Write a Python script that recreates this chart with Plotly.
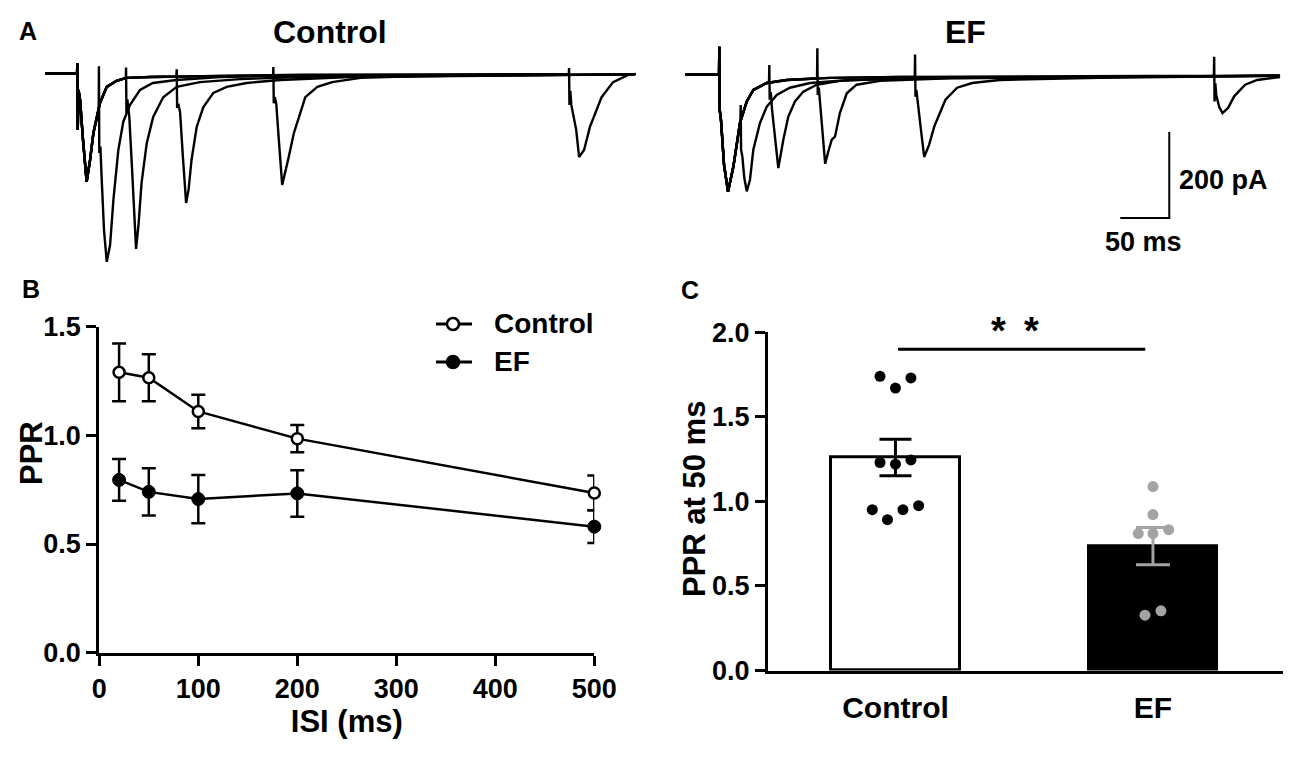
import plotly.graph_objects as go

W, H = 1300, 757
OFF = 8  # the page body adds an 8 px margin around the plot

# ---- panel A: example sweeps (time in ms from 1st stimulus, current in pA) ----
isi_list = [20, 50, 100, 200, 500]

ctrl_first_t = [-33, -0.3, 0, 0.4, 1.2, 2.8, 5.8, 9.5, 13, 16.4, 23, 30, 40, 50, 74, 125, 228, 569]
ctrl_first_i = [0, 0, 24, -131, -38, -62, -155, -252, -201, -138, -69, -31, -17, -10, -8, -6, -3, -1]

ctrl_second_t = [
    [21.8, 22.0, 22.4, 23.5, 24.9, 27.2, 30, 33.4, 36.8, 41.8, 46.9, 53.8, 64, 77, 101, 146, 227, 569],
    [49.5, 49.7, 50.1, 51, 53, 56, 59.9, 62.5, 65.5, 70.8, 77.4, 87.6, 101.4, 125, 166, 227, 569],
    [101.0, 101.4, 101.8, 103, 104.8, 107.9, 111, 113.5, 116.5, 121.8, 128.6, 138.8, 152.4, 172.7, 207, 278, 569],
    [199.8, 200, 200.4, 201.5, 203, 205.6, 209, 215, 221, 232.6, 244.9, 260, 289, 350, 569],
    [501.5, 501.7, 502.1, 503, 504, 509, 511.9, 517, 523, 534.9, 546.6, 562, 570],
]
ctrl_second_i = [
    [-85, 17, -185, -170, -248, -364, -438, -399, -294, -178, -112, -73, -38, -22, -15, -8, -5, -2],
    [-10, 14, -92, -60, -100, -230, -408, -350, -255, -162, -101, -55, -31, -20, -13, -8, -2],
    [-7, 10, -80, -70, -90, -201, -301, -270, -201, -124, -78, -45, -31, -22, -15, -8, -2],
    [-4, 15, -69, -55, -71, -155, -259, -201, -138, -55, -31, -20, -10, -6, -2],
    [-1, 13, -73, -40, -73, -131, -194, -178, -124, -55, -20, -3, -1],
]

ef_first_t = [-35, -0.3, 0, 0.4, 1.7, 4.8, 8.9, 14.3, 21.1, 28, 34.7, 48.4, 68.8, 113, 184, 572]
ef_first_i = [0, 0, 65, -81, -105, -209, -272, -214, -112, -62, -35, -19, -12, -7, -5, -2]

ef_second_t = [
    [21.5, 21.8, 22.2, 23.5, 25.5, 28, 31.3, 34.7, 41.5, 48.4, 58.6, 72, 92.5, 133, 235, 572],
    [50.7, 51, 51.4, 52.5, 53.8, 56.8, 60.2, 65.3, 70.4, 77.2, 85.7, 99.4, 123, 184, 572],
    [99.7, 100, 100.4, 101.5, 103, 105.3, 108, 111, 114.7, 118, 123, 130, 140, 164, 235, 572],
    [199.4, 199.7, 200.1, 201, 203, 205.7, 209, 214, 219.3, 230.7, 242.6, 257.9, 286, 388, 572],
    [504.5, 504.8, 505.2, 506, 506.9, 510, 513.3, 519, 525.2, 536.4, 548.7, 572],
]
ef_second_i = [
    [-108, -70, -174, -190, -240, -271, -244, -174, -112, -74, -47, -30, -19, -12, -7, -2],
    [-19, 23, -58, -40, -81, -151, -217, -151, -97, -62, -39, -23, -14, -8, -2],
    [-8, 62, -47, -30, -70, -140, -207, -180, -151, -144, -89, -43, -23, -14, -8, -2],
    [-5, 47, -51, -35, -70, -128, -191, -163, -120, -58, -30, -19, -12, -7, -2],
    [-2, 42, -62, -20, -47, -75, -89, -77, -50, -23, -12, -5],
]

scale_ms = 50
scale_pa = 200

# ---- panel B: PPR vs ISI ----
isi_ms = [20, 50, 100, 200, 500]
ctrl_ppr = [1.29, 1.265, 1.11, 0.985, 0.735]
ctrl_sem = [0.133, 0.108, 0.077, 0.063, 0.08]
ef_ppr = [0.795, 0.74, 0.707, 0.733, 0.58]
ef_sem = [0.096, 0.109, 0.111, 0.107, 0.075]

# ---- panel C: PPR at 50 ms ----
groups = ["Control", "EF"]
ppr50_mean = [1.26, 0.735]
ppr50_sem = [0.108, 0.11]
ctrl_cells = [1.74, 1.73, 1.67, 1.23, 1.22, 1.245, 0.951, 0.892, 0.951, 0.975]
ef_cells = [1.088, 0.922, 0.81, 0.81, 0.833, 0.327, 0.353]
ctrl_jitter = [-0.06, 0.06, 0, -0.06, 0, 0.06, -0.09, -0.031, 0.029, 0.09]
ef_jitter = [0, 0, -0.057, 0, 0.061, -0.031, 0.031]
sig_y = 1.90


def px(x):
    return (x - OFF) / W


def py(y):
    return 1 - (y - OFF) / H


def sweep(first_t, first_i, sec_t, sec_i):
    keep = [k for k, t in enumerate(first_t) if t < sec_t[0]]
    return [first_t[k] for k in keep] + sec_t, [first_i[k] for k in keep] + sec_i


fig = go.Figure()

# panel A traces
for k in range(len(isi_list)):
    t, i = sweep(ctrl_first_t, ctrl_first_i, ctrl_second_t[k], ctrl_second_i[k])
    fig.add_trace(go.Scatter(x=t, y=i, mode="lines", line=dict(color="black", width=2.4),
                             xaxis="x", yaxis="y", showlegend=False, hoverinfo="skip"))
for k in range(len(isi_list)):
    t, i = sweep(ef_first_t, ef_first_i, ef_second_t[k], ef_second_i[k])
    fig.add_trace(go.Scatter(x=t, y=i, mode="lines", line=dict(color="black", width=2.4),
                             xaxis="x2", yaxis="y2", showlegend=False, hoverinfo="skip"))

# scale bar (corner placed in the EF panel)
bar_t, bar_i = 459, -333
fig.add_trace(go.Scatter(x=[bar_t - scale_ms, bar_t, bar_t], y=[bar_i, bar_i, bar_i + scale_pa],
                         mode="lines", line=dict(color="black", width=2),
                         xaxis="x2", yaxis="y2", showlegend=False, hoverinfo="skip"))

# panel B
fig.add_trace(go.Scatter(x=isi_ms, y=ef_ppr, mode="lines+markers", name="EF",
                         error_y=dict(type="data", array=ef_sem, color="black", thickness=2.5, width=7),
                         line=dict(color="black", width=2.5),
                         marker=dict(color="black", size=13, line=dict(color="black", width=1)),
                         cliponaxis=False, xaxis="x3", yaxis="y3", showlegend=False))
fig.add_trace(go.Scatter(x=isi_ms, y=ctrl_ppr, mode="lines+markers", name="Control",
                         error_y=dict(type="data", array=ctrl_sem, color="black", thickness=2.5, width=7),
                         line=dict(color="black", width=2.5),
                         marker=dict(color="white", size=11, line=dict(color="black", width=2.5)),
                         cliponaxis=False, xaxis="x3", yaxis="y3", showlegend=False))

# panel C
fig.add_trace(go.Bar(x=[0], y=[ppr50_mean[0]], width=0.5,
                     marker=dict(color="white", line=dict(color="black", width=3)),
                     error_y=dict(type="data", array=[ppr50_sem[0]], color="black", thickness=3, width=16),
                     xaxis="x4", yaxis="y4", showlegend=False))
fig.add_trace(go.Bar(x=[1], y=[ppr50_mean[1]], width=0.5,
                     marker=dict(color="black", line=dict(color="black", width=3)),
                     error_y=dict(type="data", array=[ppr50_sem[1]], color="#a3a3a3", thickness=3, width=17),
                     xaxis="x4", yaxis="y4", showlegend=False))
fig.add_trace(go.Scatter(x=[0 + d for d in ctrl_jitter], y=ctrl_cells, mode="markers",
                         marker=dict(color="black", size=11),
                         xaxis="x4", yaxis="y4", showlegend=False))
fig.add_trace(go.Scatter(x=[1 + d for d in ef_jitter], y=ef_cells, mode="markers",
                         marker=dict(color="#a3a3a3", size=11),
                         xaxis="x4", yaxis="y4", showlegend=False))
fig.add_trace(go.Scatter(x=[0.01, 0.97], y=[sig_y, sig_y], mode="lines",
                         line=dict(color="black", width=3), cliponaxis=False,
                         xaxis="x4", yaxis="y4", showlegend=False))

hidden = dict(visible=False, automargin=False)
axis_style = dict(showline=True, linewidth=3, linecolor="black", showgrid=False, zeroline=False,
                  ticks="outside", ticklen=10, tickwidth=3, tickcolor="black",
                  tickfont=dict(size=27), automargin=False)

fig.update_layout(
    width=W, height=H,
    margin=dict(l=0, r=0, t=0, b=0),
    paper_bgcolor="white", plot_bgcolor="rgba(0,0,0,0)",
    font=dict(family="Liberation Sans, Arial, sans-serif", color="black", weight="bold"),
    bargap=0,
    xaxis=dict(domain=[px(45), px(636)], range=[-33, 570], anchor="y", **hidden),
    yaxis=dict(domain=[py(270), py(40)], range=[-457, 78], anchor="x", **hidden),
    xaxis2=dict(domain=[px(685), px(1282)], range=[-35, 574], anchor="y2", **hidden),
    yaxis2=dict(domain=[py(270), py(40)], range=[-454, 81], anchor="x2", **hidden),
    xaxis3=dict(domain=[px(99.3), px(594.3)], range=[0, 500], anchor="y3",
                tickvals=[0, 100, 200, 300, 400, 500],
                title=dict(text="ISI (ms)", font=dict(size=31), standoff=8), **axis_style),
    yaxis3=dict(domain=[py(652.7), py(326.7)], range=[0, 1.5], anchor="x3",
                tickvals=[0, 0.5, 1.0, 1.5], tickformat=".1f", **axis_style),
    xaxis4=dict(domain=[px(768), px(1283)], range=[-0.495, 1.505], anchor="y4",
                showline=True, linewidth=3, linecolor="black", showgrid=False, zeroline=False,
                tickvals=[0, 1], ticktext=groups, ticks="outside", ticklen=8,
                tickcolor="rgba(0,0,0,0)", tickfont=dict(size=30), automargin=False),
    yaxis4=dict(domain=[py(670.5), py(332.3)], range=[0, 2.0], anchor="x4",
                tickvals=[0, 0.5, 1.0, 1.5, 2.0], tickformat=".1f", **axis_style),
)

annots = [
    dict(text="A", x=px(28), y=py(31), size=25),
    dict(text="B", x=px(31), y=py(289), size=25),
    dict(text="C", x=px(690), y=py(290), size=25),
    dict(text="Control", x=px(330), y=py(32), size=32),
    dict(text="EF", x=px(965), y=py(32), size=32),
    dict(text="50 ms", x=px(1143), y=py(242), size=27),
]
for a in annots:
    fig.add_annotation(text=a["text"], x=a["x"], y=a["y"], xref="paper", yref="paper",
                       showarrow=False, xanchor="center", yanchor="middle", font=dict(size=a["size"]))
fig.add_annotation(text="200 pA", x=px(1177), y=py(180), xref="paper", yref="paper",
                   showarrow=False, xanchor="left", yanchor="middle", font=dict(size=27))

# rotated y-axis titles
fig.add_annotation(text="PPR", x=px(31), y=py(453), xref="paper", yref="paper", showarrow=False,
                   textangle=-90, xanchor="center", yanchor="middle", font=dict(size=31))
fig.add_annotation(text="PPR at 50 ms", x=px(694), y=py(499), xref="paper", yref="paper",
                   showarrow=False, textangle=-90, xanchor="center", yanchor="middle",
                   font=dict(size=31))

# significance stars
for sx in [998, 1031]:
    fig.add_annotation(text="*", x=px(sx), y=py(331), xref="paper", yref="paper", showarrow=False,
                       xanchor="center", yanchor="middle", font=dict(size=38))

# legend for panel B (drawn by hand)
leg_rows = [("Control", 324, "white"), ("EF", 362, "black")]
for label, yy, fill in leg_rows:
    fig.add_shape(type="line", xref="paper", yref="paper", x0=px(436), x1=px(472), y0=py(yy), y1=py(yy),
                  line=dict(color="black", width=3))
    fig.add_shape(type="circle", xref="paper", yref="paper", xsizemode="pixel", ysizemode="pixel",
                  xanchor=px(453), yanchor=py(yy), x0=-6, x1=6, y0=-6, y1=6,
                  fillcolor=fill, line=dict(color="black", width=2.5))
    fig.add_annotation(text=label, x=px(492), y=py(yy), xref="paper", yref="paper", showarrow=False,
                       xanchor="left", yanchor="middle", font=dict(size=28))

fig.write_html("out.html")
